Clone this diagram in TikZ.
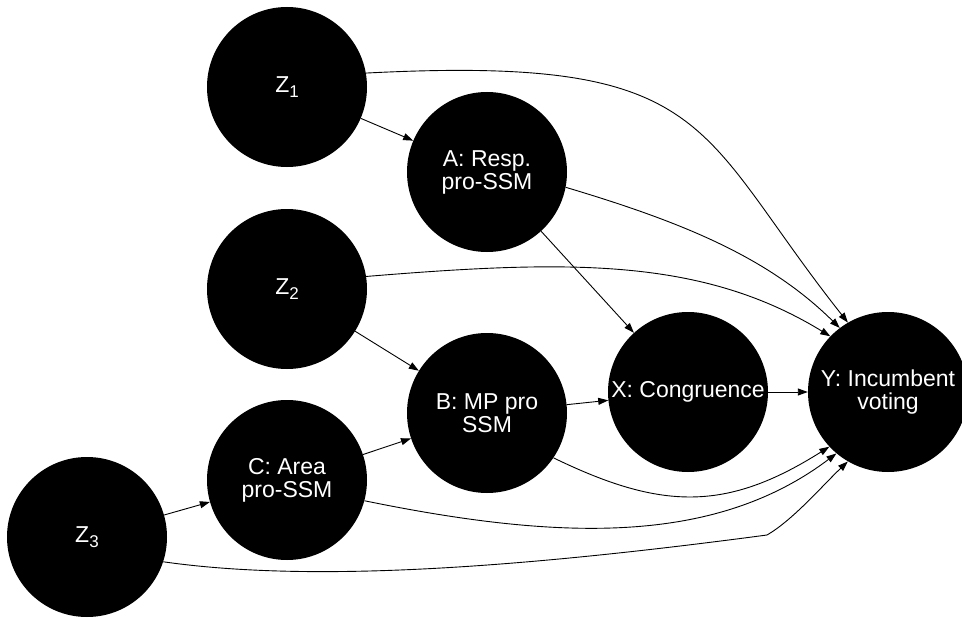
\documentclass[tikz,border=0pt]{standalone}
\usepackage{fontspec}
\setmainfont{Liberation Sans}
\usetikzlibrary{arrows.meta}

\newcommand{\zsub}[1]{Z\raisebox{-5pt}{\fontsize{17}{17}\selectfont #1}}

\begin{document}
\begin{tikzpicture}[x=1pt, y=-1pt,
    var/.style={circle, fill=black, text=white, minimum size=160pt, inner sep=0pt,
        align=center, font=\fontsize{23}{23}\selectfont},
    link/.style={line width=0.9pt, -{Triangle[length=10pt,width=7pt]}}]
        \useasboundingbox (0, 0) rectangle (962, 618);

        \node[var] (z1) at (287, 87) {\zsub{1}};
        \node[var] (a) at (487, 172) {A: Resp.\\pro-SSM};
        \node[var] (z2) at (287, 289) {\zsub{2}};
        \node[var] (b) at (487, 413) {B: MP pro\\SSM};
        \node[var] (x) at (688, 392) {X: Congruence};
        \node[var] (y) at (888, 392) {Y: Incumbent\\voting};
        \node[var] (c) at (287, 480) {C: Area\\pro-SSM};
        \node[var] (z3) at (87, 537) {\zsub{3}};

        \draw[link] (z1) -- (a);
        \draw[link] (a) -- (x);
        \draw[link] (z2) -- (b);
        \draw[link] (c) -- (b);
        \draw[link] (z3) -- (c);
        \draw[link] (b) -- (x);
        \draw[link] (x) -- (y);

        \draw[link] (z1.10) .. controls (716, 55) and (693, 127) .. (y.120);
        \draw[link] (a.-11) .. controls (682, 222) and (768, 257) .. (y.127);
        \draw[link] (z2.9) .. controls (567, 260) and (701, 257) .. (y.136);
        \draw[link] (b.-34) .. controls (661, 510) and (726, 512) .. (y.-137);
        \draw[link] (c.-15) .. controls (561, 541) and (715, 545) .. (y.-130);
        \draw[link] (z3.-18) .. controls (312, 583) and (519, 568) .. (767, 535)
            .. controls (793, 520) and (823, 485) .. (y.-120);
\end{tikzpicture}
\end{document}
